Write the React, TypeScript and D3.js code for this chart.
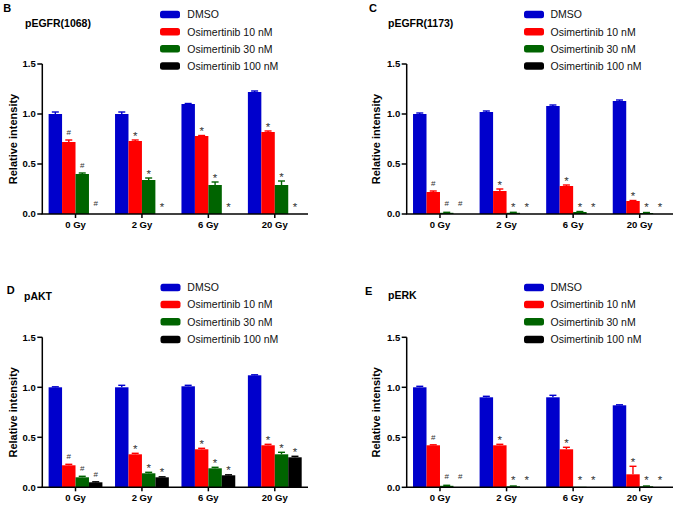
import React from "react";
import * as d3 from "d3";

// ---------- data ----------
const groups = ["0 Gy", "2 Gy", "6 Gy", "20 Gy"];
const seriesNames = ["DMSO", "Osimertinib 10 nM", "Osimertinib 30 nM", "Osimertinib 100 nM"];
const seriesColors = ["#0000CC", "#FF0000", "#006400", "#000000"];
const yTicks = [0, 0.5, 1.0, 1.5];
// significance marks per group (applied to the three Osimertinib series)
const groupMarks = ["#", "*", "*", "*"];

// Panel B – pEGFR(1068)
const dmsoB = [1.0, 1.0, 1.1, 1.22];
const dmsoErrB = [0.02, 0.02, 0.005, 0.01];
const osi10B = [0.72, 0.73, 0.78, 0.82];
const osi10ErrB = [0.02, 0.01, 0.005, 0.01];
const osi30B = [0.4, 0.34, 0.29, 0.29];
const osi30ErrB = [0.01, 0.02, 0.03, 0.04];
const osi100B = [0, 0, 0, 0];
const osi100ErrB = [0, 0, 0, 0];

// Panel C – pEGFR(1173)
const dmsoC = [1.0, 1.02, 1.08, 1.13];
const dmsoErrC = [0.01, 0.01, 0.01, 0.01];
const osi10C = [0.22, 0.23, 0.28, 0.13];
const osi10ErrC = [0.01, 0.02, 0.01, 0.005];
const osi30C = [0.012, 0.012, 0.02, 0.01];
const osi30ErrC = [0.005, 0.005, 0.005, 0.005];
const osi100C = [0, 0, 0, 0];
const osi100ErrC = [0, 0, 0, 0];

// Panel D – pAKT
const dmsoD = [1.0, 1.0, 1.01, 1.12];
const dmsoErrD = [0.005, 0.02, 0.01, 0.005];
const osi10D = [0.22, 0.33, 0.38, 0.42];
const osi10ErrD = [0.01, 0.01, 0.01, 0.01];
const osi30D = [0.1, 0.14, 0.19, 0.33];
const osi30ErrD = [0.01, 0.01, 0.01, 0.02];
const osi100D = [0.05, 0.1, 0.12, 0.3];
const osi100ErrD = [0.005, 0.005, 0.005, 0.01];

// Panel E – pERK
const dmsoE = [1.0, 0.9, 0.9, 0.82];
const dmsoErrE = [0.01, 0.01, 0.02, 0.005];
const osi10E = [0.42, 0.42, 0.38, 0.13];
const osi10ErrE = [0.005, 0.01, 0.02, 0.08];
const osi30E = [0.015, 0.01, 0.005, 0.01];
const osi30ErrE = [0.005, 0.003, 0, 0.003];
const osi100E = [0, 0, 0, 0];
const osi100ErrE = [0, 0, 0, 0];

// ---------- layout ----------
const FONT = "'Liberation Sans', Arial, Helvetica, sans-serif";

type Panel = {
  letter: string;
  title: string;
  values: number[][];
  errors: number[][];
  ax: number;
  ar: number;
  yTop: number;
  yBot: number;
  letterX: number;
  letterY: number;
  titleX: number;
  titleY: number;
  legX: number;
  legTextX: number;
  legRows: number[];
  yTitleX: number;
};

const panels: Panel[] = [
  {
    letter: "B", title: "pEGFR(1068)",
    values: [dmsoB, osi10B, osi30B, osi100B],
    errors: [dmsoErrB, osi10ErrB, osi30ErrB, osi100ErrB],
    ax: 42.3, ar: 308, yTop: 64, yBot: 214,
    letterX: 3.3, letterY: 11.5, titleX: 25, titleY: 26.5,
    legX: 160, legTextX: 187.3, legRows: [14.5, 31.8, 48.8, 66], yTitleX: 12.5,
  },
  {
    letter: "C", title: "pEGFR(1173)",
    values: [dmsoC, osi10C, osi30C, osi100C],
    errors: [dmsoErrC, osi10ErrC, osi30ErrC, osi100ErrC],
    ax: 406.7, ar: 673, yTop: 64, yBot: 214,
    letterX: 369, letterY: 11.5, titleX: 388, titleY: 26.5,
    legX: 524, legTextX: 550.5, legRows: [14.5, 31.8, 48.8, 66], yTitleX: 376,
  },
  {
    letter: "D", title: "pAKT",
    values: [dmsoD, osi10D, osi30D, osi100D],
    errors: [dmsoErrD, osi10ErrD, osi30ErrD, osi100ErrD],
    ax: 42.3, ar: 308, yTop: 337.3, yBot: 487.3,
    letterX: 6.7, letterY: 294.3, titleX: 24, titleY: 299.5,
    legX: 160.5, legTextX: 187.3, legRows: [287.5, 304.5, 321.8, 339.5], yTitleX: 12.5,
  },
  {
    letter: "E", title: "pERK",
    values: [dmsoE, osi10E, osi30E, osi100E],
    errors: [dmsoErrE, osi10ErrE, osi30ErrE, osi100ErrE],
    ax: 406.7, ar: 673, yTop: 337.3, yBot: 487.3,
    letterX: 365, letterY: 295, titleX: 388, titleY: 299.3,
    legX: 524, legTextX: 550.5, legRows: [287.5, 304.5, 321.8, 339.5], yTitleX: 376,
  },
];

function PanelChart({ p }: { p: Panel }) {
  const y = d3.scaleLinear().domain([0, 1.5]).range([p.yBot, p.yTop]);
  const x0 = d3.scaleBand<string>().domain(groups).range([p.ax, p.ar]).paddingInner(0.19).paddingOuter(0.095);
  const x1 = d3.scaleBand<string>().domain(seriesNames).range([0, x0.bandwidth()]).padding(0);
  const bw = x1.bandwidth();

  return (
    <g>
      <text x={p.letterX} y={p.letterY} fontSize={11} fontWeight="bold" fontFamily={FONT}>{p.letter}</text>
      <text x={p.titleX} y={p.titleY} fontSize={10.5} fontWeight="bold" fontFamily={FONT}>{p.title}</text>

      {seriesNames.map((s, i) => (
        <g key={s}>
          <rect x={p.legX} y={p.legRows[i] - 3.8} width={20} height={7.6} rx={2.5} fill={seriesColors[i]} />
          <text x={p.legTextX} y={p.legRows[i] + 3.7} fontSize={10.5} fontFamily={FONT} fill="#111">{s}</text>
        </g>
      ))}

      {groups.map((g, gi) => (
        <g key={g} transform={`translate(${x0(g)},0)`}>
          {seriesNames.map((s, si) => {
            const v = p.values[si][gi];
            const e = p.errors[si][gi];
            const bx = x1(s) as number;
            const top = y(v);
            const etop = y(v + e);
            const cx = bx + bw / 2;
            const markTop = Math.min(etop, y(0) - 3) - 1;
            const mark = si === 0 ? "" : groupMarks[gi];
            return (
              <g key={s}>
                {v > 0 && (
                  <rect x={bx} y={top} width={bw} height={y(0) - top} fill={seriesColors[si]} />
                )}
                {e > 0 && (
                  <g stroke={seriesColors[si]} strokeWidth={1.4}>
                    <line x1={cx} x2={cx} y1={top} y2={etop} />
                    <line x1={cx - 3.5} x2={cx + 3.5} y1={etop} y2={etop} />
                  </g>
                )}
                {mark === "#" && (
                  <text x={cx} y={markTop - 4} textAnchor="middle" fontSize={8} fontFamily={FONT} fill="#333">#</text>
                )}
                {mark === "*" && (
                  <text x={cx} y={markTop + 0.5} textAnchor="middle" fontSize={11.5} fontFamily={FONT} fill="#333">*</text>
                )}
              </g>
            );
          })}
        </g>
      ))}

      <line x1={p.ax} x2={p.ax} y1={y(1.5)} y2={y(0)} stroke="#000" strokeWidth={1.5} />
      {yTicks.map((t) => (
        <g key={t}>
          <line x1={p.ax - 5} x2={p.ax} y1={y(t)} y2={y(t)} stroke="#000" strokeWidth={1.5} />
          <text x={p.ax - 6.5} y={y(t)} dy="0.34em" textAnchor="end" fontSize={9.5} fontWeight="bold" fontFamily={FONT}>
            {d3.format(".1f")(t)}
          </text>
        </g>
      ))}
      <text
        transform={`translate(${p.yTitleX + 4},${(p.yTop + p.yBot) / 2}) rotate(-90)`}
        textAnchor="middle" fontSize={11} fontWeight="bold" fontFamily={FONT}
      >
        Relative intensity
      </text>

      <line x1={p.ax - 0.75} x2={p.ar} y1={y(0)} y2={y(0)} stroke="#000" strokeWidth={1.5} />
      {groups.map((g) => {
        const cx = (x0(g) as number) + x0.bandwidth() / 2;
        return (
          <g key={g}>
            <line x1={cx} x2={cx} y1={y(0)} y2={y(0) + 4} stroke="#000" strokeWidth={1.5} />
            <text x={cx} y={y(0) + 14} textAnchor="middle" fontSize={9.5} fontWeight="bold" fontFamily={FONT}>{g}</text>
          </g>
        );
      })}
    </g>
  );
}

export default function App() {
  return (
    <svg
      width={677}
      height={509}
      viewBox="0 0 677 509"
      style={{ position: "absolute", left: 0, top: 0, background: "#fff" }}
    >
      <rect width={677} height={509} fill="#fff" />
      {panels.map((p) => (
        <PanelChart key={p.letter} p={p} />
      ))}
    </svg>
  );
}
